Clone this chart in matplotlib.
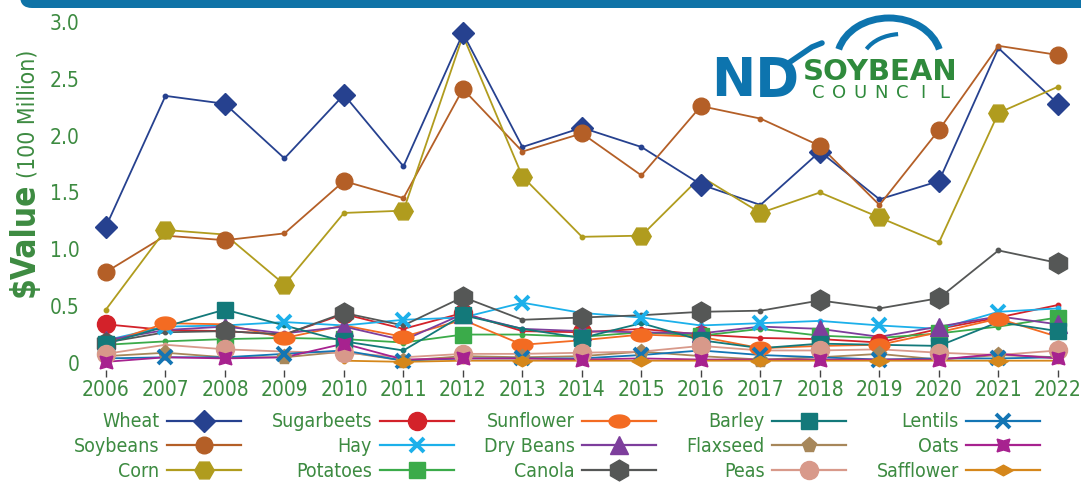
import os
import numpy as np
import matplotlib
matplotlib.use("Agg")
import matplotlib.pyplot as plt
from matplotlib import font_manager
from matplotlib.lines import Line2D
from matplotlib.patches import Arc, FancyBboxPatch

years = list(range(2006, 2023))
nan = np.nan

# values in $100 million
wheat      = [1.20, 2.35, 2.28, 1.80, 2.36, 1.73, 2.90, 1.90, 2.07, 1.90, 1.57, 1.39, 1.86, 1.44, 1.60, 2.77, 2.28]
soybeans   = [0.80, 1.12, 1.08, 1.14, 1.60, 1.45, 2.41, 1.86, 2.02, 1.65, 2.26, 2.15, 1.91, 1.39, 2.05, 2.79, 2.71]
corn       = [0.47, 1.17, 1.13, 0.69, 1.32, 1.34, 2.88, 1.64, 1.11, 1.12, 1.64, 1.32, 1.50, 1.28, 1.06, 2.20, 2.43]
sugarbeets = [0.34, 0.29, 0.28, 0.25, 0.43, 0.30, 0.44, 0.28, 0.27, 0.30, 0.25, 0.22, 0.21, 0.18, 0.30, 0.40, 0.51]
hay        = [0.20, 0.32, 0.33, 0.36, 0.33, 0.38, 0.40, 0.53, 0.44, 0.40, 0.33, 0.35, 0.37, 0.33, 0.30, 0.45, 0.48]
potatoes   = [0.16, 0.19, 0.21, 0.22, 0.21, 0.18, 0.25, 0.25, 0.23, 0.27, 0.24, 0.30, 0.24, 0.22, 0.26, 0.32, 0.40]
sunflower  = [0.17, 0.35, 0.34, 0.22, 0.33, 0.23, 0.38, 0.16, 0.20, 0.25, 0.23, 0.13, 0.15, 0.16, 0.27, 0.39, 0.23]
dry_beans  = [0.20, 0.29, 0.32, 0.26, 0.32, 0.20, 0.43, 0.30, 0.28, 0.27, 0.26, 0.32, 0.30, 0.23, 0.32, 0.41, 0.34]
canola     = [0.18, 0.27, 0.28, 0.25, 0.44, 0.33, 0.58, 0.38, 0.40, 0.42, 0.45, 0.46, 0.55, 0.48, 0.57, 0.99, 0.88]
barley     = [0.17, 0.32, 0.47, 0.33, 0.19, 0.11, 0.42, 0.30, 0.22, 0.35, 0.20, 0.13, 0.17, 0.16, 0.15, 0.36, 0.28]
flaxseed   = [0.06, 0.09, 0.05, 0.05, 0.10, 0.02, 0.06, 0.05, 0.06, 0.10, 0.06, 0.03, 0.05, 0.08, 0.03, 0.07, 0.05]
peas       = [0.08, 0.16, 0.12, 0.10, 0.09, 0.05, 0.08, 0.08, 0.09, 0.10, 0.15, 0.11, 0.11, 0.12, 0.09, 0.07, 0.11]
lentils    = [0.04, 0.05, 0.05, 0.08, 0.11, 0.02, 0.04, 0.04, 0.04, 0.07, 0.11, 0.07, 0.05, 0.03, 0.04, 0.04, 0.05]
oats       = [0.01, 0.05, 0.04, 0.05, 0.17, 0.03, 0.04, 0.04, 0.03, 0.04, 0.03, 0.03, 0.03, 0.03, 0.03, 0.08, 0.04]
safflower  = [nan, nan, nan, nan, 0.02, 0.01, 0.02, 0.02, 0.02, 0.02, 0.02, 0.02, 0.02, 0.02, 0.02, 0.02, 0.02]

yticks = [0, 0.5, 1.0, 1.5, 2.0, 2.5, 3.0]
ytick_labels = ["0", "0.5", "1.0", "1.5", "2.0", "2.5", "3.0"]

GREEN = "#3d8b41"

# narrow font: DejaVu Sans Condensed (upright) if it is there
def find_font(fname, fallback_weight):
    for f in font_manager.fontManager.ttflist:
        if os.path.basename(f.fname) == fname:
            return font_manager.FontProperties(fname=f.fname)
    return font_manager.FontProperties(family="DejaVu Sans", weight=fallback_weight)

FP = find_font("DejaVuSansCondensed.ttf", "normal")
FPB = find_font("DejaVuSansCondensed-Bold.ttf", "bold")

# custom marker shapes
t = np.linspace(0, 2 * np.pi, 40)
ellipse = list(zip(np.cos(t), 0.62 * np.sin(t)))
flat_diamond = [(-1, 0), (0, 0.55), (1, 0), (0, -0.55), (-1, 0)]

# name, data, color, marker, size, which points get the big marker
series = [
    ("Wheat", wheat, "#26418f", "D", 11, (0, 2)),
    ("Soybeans", soybeans, "#b45f27", "o", 12, (0, 2)),
    ("Corn", corn, "#b09c1e", "H", 14, (1, 2)),
    ("Sugarbeets", sugarbeets, "#d3222a", "o", 13, [0, 2, 4, 6, 8, 10, 13]),
    ("Hay", hay, "#1cb0ea", "x", 10, (1, 2)),
    ("Potatoes", potatoes, "#3bab4a", "s", 11, (0, 2)),
    ("Sunflower", sunflower, "#f36b22", ellipse, 15, (1, 2)),
    ("Dry Beans", dry_beans, "#7d3e9c", "^", 13, (0, 2)),
    ("Canola", canola, "#555756", "h", 15, (0, 2)),
    ("Barley", barley, "#13797a", "s", 11, (0, 2)),
    ("Flaxseed", flaxseed, "#a7875a", "p", 11, (1, 2)),
    ("Peas", peas, "#d8998a", "o", 13, (0, 2)),
    ("Lentils", lentils, "#1375b4", "x", 10, (1, 2)),
    ("Oats", oats, "#a7228f", (4, 1, 45), 13, (0, 2)),
    ("Safflower", safflower, "#d5871b", flat_diamond, 14, (1, 2)),
]

fig = plt.figure(figsize=(10.81, 4.83), dpi=100)
ax = fig.add_axes([0.0815, 0.2344, 0.9137, 0.7342])

handles = []
for name, vals, col, mk, ms, every in series:
    mew = 2.8 if mk == "x" else 1
    ax.plot(years, vals, color=col, lw=1.3, marker="o", ms=3.2, zorder=2)
    ax.plot(years, vals, ls="none", color=col, marker=mk, ms=ms, mew=mew,
            markevery=every, zorder=3)
    handles.append(Line2D([], [], color=col, lw=1.6, marker=mk, ms=ms, mew=mew,
                          label=name))

ax.set_xlim(2005.7, 2022.3)
ax.set_ylim(-0.06, 3.06)
ax.set_xticks(years)
ax.set_yticks(yticks)
ax.set_yticklabels(ytick_labels)
for s in ax.spines.values():
    s.set_visible(False)
ax.tick_params(axis="x", length=5, width=1, color="#444444", pad=2, labelcolor=GREEN)
ax.tick_params(axis="y", length=0, pad=6, labelcolor=GREEN)
for lab in ax.get_xticklabels() + ax.get_yticklabels():
    lab.set_fontproperties(FP)
    lab.set_fontsize(15)

# y axis title, bold part and plain part
fig.text(24 / 1081, 1 - 240 / 483, r"\$Value", rotation=90, ha="center", va="center",
         color=GREEN, fontproperties=FPB, fontsize=24)
fig.text(28 / 1081, 1 - 114 / 483, "(100 Million)", rotation=90, ha="center", va="center",
         color=GREEN, fontproperties=FP, fontsize=16.5)

lfp = FP.copy()
lfp.set_size(14)
leg = fig.legend(handles=handles, ncol=5, loc="center", bbox_to_anchor=(0.5155, 0.075),
                 frameon=False, markerfirst=False, prop=lfp, handlelength=3.8,
                 handletextpad=0.4, columnspacing=1.55, labelspacing=0.3)
for txt in leg.get_texts():
    txt.set_color(GREEN)

# overlay in pixel coords for the header bar and the logo
ov = fig.add_axes([0, 0, 1, 1], zorder=5)
ov.set_xlim(0, 1081)
ov.set_ylim(483, 0)
ov.axis("off")
ov.add_patch(FancyBboxPatch((20, -20), 1100, 28, boxstyle="round,pad=0,rounding_size=12",
                            color="#0f73a7", lw=0))

BLUE = "#0d74ae"
LGREEN = "#2f8a3c"
ov.text(711, 96, "ND", color=BLUE, fontsize=38, fontweight="heavy",
        family="DejaVu Sans", ha="left", va="baseline")
# checkmark across the D
ov.plot([760, 776, 812], [62, 90, 50], color="white", lw=5, solid_capstyle="round")
ov.plot([790, 812, 822], [62, 47, 43], color=BLUE, lw=4, solid_capstyle="round")
# arcs above SOYBEAN (y axis runs downward here, so angles are mirrored)
ov.add_patch(Arc((889, 60), 104, 84, theta1=192, theta2=348, color=BLUE, lw=5))
ov.add_patch(Arc((902, 62), 80, 56, theta1=200, theta2=262, color=BLUE, lw=3))
ov.text(880, 80, "SOYBEAN", color=LGREEN, fontsize=21, fontweight="bold",
        family="DejaVu Sans", ha="center", va="baseline")
for ch, xx in zip("COUNCIL", np.linspace(818, 944, 7)):
    ov.text(xx, 98, ch, color=LGREEN, fontsize=13, family="DejaVu Sans",
            ha="center", va="baseline")

fig.savefig("out.png", dpi=100)
